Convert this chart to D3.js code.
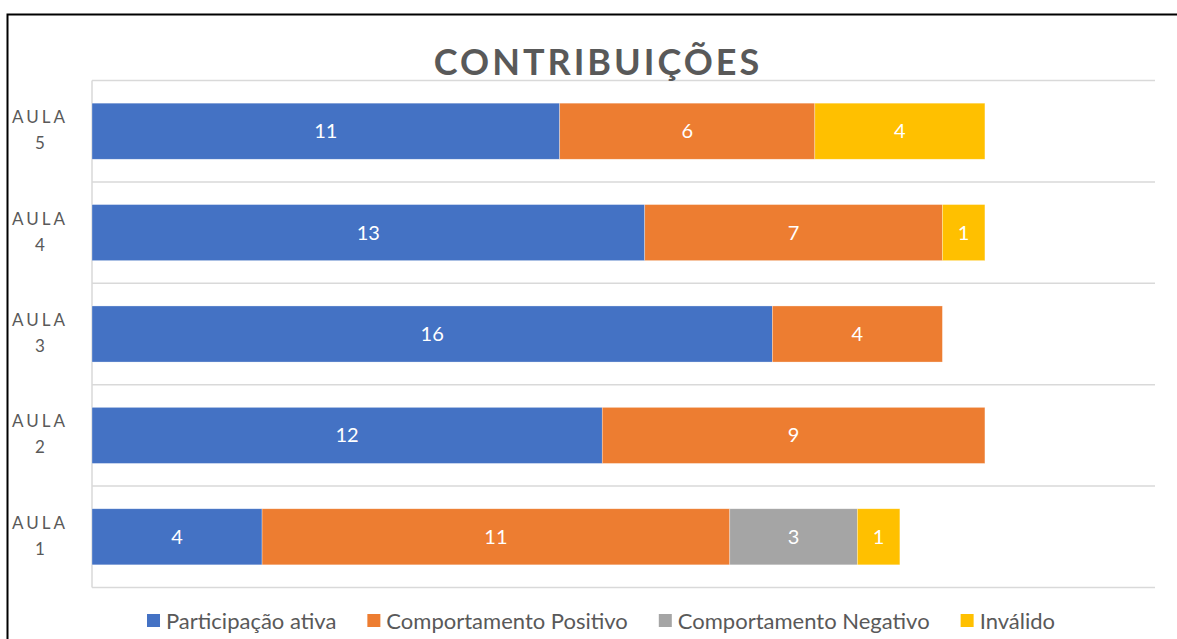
<!DOCTYPE html>
<html>
<head>
<meta charset="utf-8">
<script src="https://cdn.jsdelivr.net/npm/d3@7.9.0/dist/d3.min.js"></script>
<style>
  body { margin: 0; background: #fff; }
  svg { display: block; font-family: Lato, "Open Sans", sans-serif; }
</style>
</head>
<body>
<svg id="chart" width="1177" height="639"></svg>
<script>
const aulas = ['AULA 1', 'AULA 2', 'AULA 3', 'AULA 4', 'AULA 5'];
const series = ['Participação ativa', 'Comportamento Positivo', 'Comportamento Negativo', 'Inválido'];
const participacao = [4, 12, 16, 13, 11];
const positivo = [11, 9, 4, 7, 6];
const negativo = [3, 0, 0, 0, 0];
const invalido = [1, 0, 0, 1, 4];
const colors = ['#4472C4', '#ED7D31', '#A5A5A5', '#FFC000'];

const rows = aulas.map((a, i) => ({
    aula: a,
    [series[0]]: participacao[i],
    [series[1]]: positivo[i],
    [series[2]]: negativo[i],
    [series[3]]: invalido[i]
}));

const svg = d3.select('#chart');
const plotLeft = 92, plotRight = 1155, plotTop = 80.5, plotBottom = 587.5;

// outer frame
svg.append('rect')
    .attr('x', 7.5).attr('y', 14.5)
    .attr('width', 1200).attr('height', 700)
    .attr('fill', 'none').attr('stroke', '#000').attr('stroke-width', 2);

const x = d3.scaleLinear().domain([0, 25]).range([plotLeft, plotRight]);
const y = d3.scaleBand().domain(aulas.slice().reverse()).range([plotTop, plotBottom]).paddingInner(0.447).paddingOuter(0.2235);

// gridlines between categories
const step = y.step();
const gridYs = d3.range(aulas.length + 1).map(i => plotTop + i * step);
svg.append('g').selectAll('line')
    .data(gridYs)
    .join('line')
    .attr('x1', plotLeft).attr('x2', plotRight)
    .attr('y1', d => d).attr('y2', d => d)
    .attr('stroke', '#d9d9d9').attr('stroke-width', 1.5);

svg.append('line')
    .attr('x1', plotLeft).attr('x2', plotLeft)
    .attr('y1', plotTop).attr('y2', plotBottom)
    .attr('stroke', '#d9d9d9').attr('stroke-width', 1.5);

const stacked = d3.stack().keys(series)(rows);

const layers = svg.append('g').selectAll('g')
    .data(stacked)
    .join('g')
    .attr('fill', (d, i) => colors[i]);

layers.selectAll('rect')
    .data(d => d.filter(s => s[1] - s[0] > 0))
    .join('rect')
    .attr('x', d => x(d[0]))
    .attr('y', d => y(d.data.aula))
    .attr('width', d => x(d[1]) - x(d[0]))
    .attr('height', y.bandwidth())
    .attr('stroke', '#fff').attr('stroke-width', 0.6).attr('stroke-opacity', 0.5);

layers.selectAll('text')
    .data(d => d.filter(s => s[1] - s[0] > 0))
    .join('text')
    .attr('x', d => (x(d[0]) + x(d[1])) / 2)
    .attr('y', d => y(d.data.aula) + y.bandwidth() / 2)
    .attr('dy', '0.35em')
    .attr('text-anchor', 'middle')
    .attr('fill', '#fff')
    .attr('font-size', 20)
    .text(d => d[1] - d[0]);

// category labels
const yl = svg.append('g').selectAll('text')
    .data(aulas)
    .join('text')
    .attr('text-anchor', 'middle')
    .attr('fill', '#595959')
    .attr('font-size', 17);
yl.append('tspan')
    .attr('x', 40)
    .attr('y', d => y(d) + y.bandwidth() / 2 - 8)
    .attr('letter-spacing', 3)
    .text(d => d.split(' ')[0]);
yl.append('tspan')
    .attr('x', 40)
    .attr('y', d => y(d) + y.bandwidth() / 2 + 18)
    .text(d => d.split(' ')[1]);

// title
svg.append('text')
    .attr('x', 598).attr('y', 75)
    .attr('text-anchor', 'middle')
    .attr('fill', '#595959')
    .attr('font-size', 36)
    .attr('font-weight', 'bold')
    .attr('letter-spacing', 3)
    .text('CONTRIBUIÇÕES');

// legend
const legend = svg.append('g');
const items = legend.selectAll('g')
    .data(series)
    .join('g');
items.append('rect')
    .attr('width', 13).attr('height', 13)
    .attr('y', 614)
    .attr('fill', (d, i) => colors[i]);
items.append('text')
    .attr('x', 19).attr('y', 621)
    .attr('dy', '0.35em')
    .attr('fill', '#595959')
    .attr('font-size', 22)
    .text(d => d);
let widths = [];
items.each(function () { widths.push(19 + this.querySelector('text').getComputedTextLength()); });
const gap = 31;
const total = d3.sum(widths) + gap * (widths.length - 1);
let cx = 601 - total / 2;
items.attr('transform', (d, i) => {
    const t = `translate(${cx},0)`;
    cx += widths[i] + gap;
    return t;
});
</script>
</body>
</html>
